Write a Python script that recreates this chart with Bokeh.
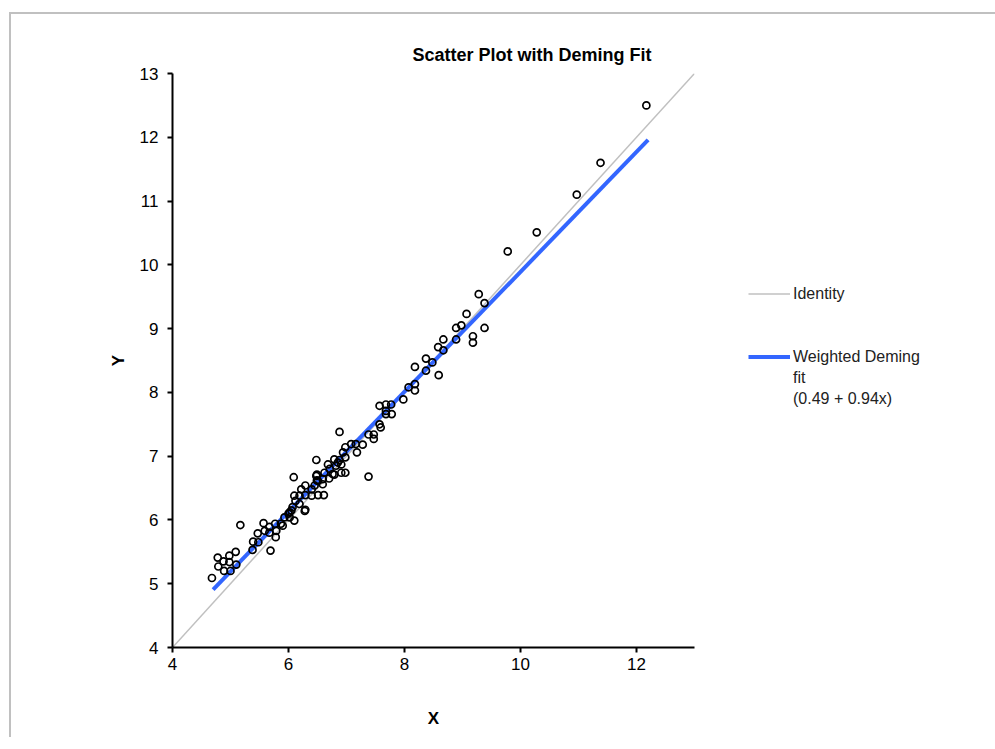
from bokeh.plotting import figure
from bokeh.models import Range1d, Legend, LegendItem, ColumnDataSource
from bokeh.embed import file_html
from bokeh.resources import INLINE

# ---- data ----
x_vals = [4.68, 4.78, 4.88, 4.98, 5.09, 4.79, 4.89, 4.98, 5.00, 5.10, 5.17,
          5.39, 5.48, 5.38, 5.47,
          5.57, 5.67, 5.59, 5.67, 5.77, 5.78, 5.69, 5.87, 5.79, 5.90, 5.93,
          6.02, 6.02, 6.10, 6.07, 6.19, 6.29, 6.10, 6.19, 6.29, 6.40, 6.51, 6.61,
          6.22, 6.29, 6.40, 6.09, 6.28, 6.00, 6.05, 6.12,
          6.49, 6.62, 6.79, 6.91, 6.98, 6.49, 6.59, 6.48, 6.88, 7.38,
          6.98, 6.94, 6.98, 6.88, 6.79, 6.82, 6.91, 6.76, 6.71, 6.68, 6.59, 6.51,
          6.48, 6.45, 6.70, 6.85,
          7.08, 7.16, 7.28, 7.18, 7.38, 7.47, 7.47, 7.57, 7.59,
          7.57, 7.68, 7.77, 7.68, 7.68, 7.78, 7.98,
          8.07, 8.18, 8.18, 8.18, 8.37, 8.48, 8.37, 8.59,
          8.58, 8.67, 8.67, 8.89, 8.89, 8.98, 9.07, 9.18, 9.18, 9.28, 9.38, 9.38,
          9.78, 10.28, 10.97, 11.38, 12.17]
y_vals = [5.09, 5.41, 5.35, 5.44, 5.50, 5.27, 5.20, 5.34, 5.20, 5.30, 5.92,
          5.66, 5.65, 5.53, 5.79,
          5.95, 5.89, 5.83, 5.80, 5.94, 5.73, 5.52, 5.94, 5.83, 5.91, 6.04,
          6.12, 6.04, 5.99, 6.20, 6.25, 6.16, 6.38, 6.38, 6.39, 6.38, 6.39, 6.39,
          6.48, 6.54, 6.48, 6.67, 6.14, 6.10, 6.15, 6.30,
          6.71, 6.74, 6.71, 6.74, 6.74, 6.62, 6.56, 6.94, 7.38, 6.68,
          7.14, 7.06, 6.98, 6.94, 6.95, 6.85, 6.87, 6.72, 6.80, 6.87, 6.64, 6.61,
          6.69, 6.54, 6.65, 6.90,
          7.19, 7.19, 7.18, 7.06, 7.34, 7.34, 7.27, 7.50, 7.45,
          7.79, 7.81, 7.81, 7.71, 7.66, 7.66, 7.89,
          8.08, 8.13, 8.03, 8.40, 8.53, 8.47, 8.34, 8.27,
          8.71, 8.83, 8.66, 8.83, 9.01, 9.05, 9.23, 8.88, 8.78, 9.54, 9.40, 9.01,
          10.21, 10.51, 11.10, 11.60, 12.50]

fit_intercept = 0.49
fit_slope = 0.94
fit_x_ends = [4.7, 12.2]
identity_ends = [4, 13]
x_ticks = [4, 6, 8, 10, 12]
y_ticks = [4, 5, 6, 7, 8, 9, 10, 11, 12, 13]

title_text = "Scatter Plot with Deming Fit"
legend_identity = "Identity"
legend_fit_lines = ["Weighted Deming", "fit", "(0.49 + 0.94x)"]

FONT = "Liberation Sans"

p = figure(output_backend="svg", toolbar_location=None,
           frame_width=522, frame_height=574,
           min_border_left=161, min_border_right=280,
           min_border_top=59, min_border_bottom=90,
           x_range=Range1d(4, 13), y_range=Range1d(4, 13))
p.styles = {"position": "absolute", "top": "12px", "left": "9px",
            "border-left": "2px solid #c0c0c0", "border-top": "2px solid #c0c0c0",
            "border-right": "none", "border-bottom": "none"}
p.grid.visible = False
p.outline_line_color = None
p.background_fill_color = "white"
p.border_fill_color = "white"

p.title.text = title_text
p.title.align = "left"
p.title.offset = 240
p.title.standoff = 17
p.title.text_font = FONT
p.title.text_font_size = "18px"
p.title.text_font_style = "bold"
p.title.text_color = "black"

for ax in (p.xaxis[0], p.yaxis[0]):
    ax.axis_line_color = "black"
    ax.axis_line_width = 2
    ax.major_tick_line_color = "black"
    ax.major_tick_line_width = 2
    ax.major_tick_out = 5
    ax.major_tick_in = 0
    ax.minor_tick_line_color = None
    ax.major_label_text_font = FONT
    ax.major_label_text_font_size = "17px"
    ax.major_label_text_color = "black"
    ax.axis_label_text_font = FONT
    ax.axis_label_text_font_style = "bold"
    ax.axis_label_text_font_size = "17px"
    ax.axis_label_text_color = "black"

p.xaxis.ticker = x_ticks
p.yaxis.ticker = y_ticks
p.xaxis.axis_label = "X"
p.yaxis.axis_label = "Y"
p.xaxis.major_label_standoff = 5
p.yaxis.major_label_standoff = 9
p.xaxis.axis_label_standoff = 36
p.yaxis.axis_label_standoff = 9

id_src = ColumnDataSource(dict(x=identity_ends, y=identity_ends))
r_id = p.line("x", "y", source=id_src, line_color="#c0c0c0", line_width=1.5)

fit_y = [fit_intercept + fit_slope * v for v in fit_x_ends]
fit_src = ColumnDataSource(dict(x=fit_x_ends, y=fit_y))
r_fit = p.line("x", "y", source=fit_src, line_color="#3366ff", line_width=4)

# invisible renderer used only to make text-only legend rows
r_blank = p.line(x=[], y=[], line_alpha=0)

pts = ColumnDataSource(dict(x=x_vals, y=y_vals))
p.scatter("x", "y", source=pts, marker="circle", size=7, line_color="black",
          line_width=1.7, fill_alpha=0)

items = [LegendItem(label=legend_identity, renderers=[r_id]),
         LegendItem(label=" ", renderers=[r_blank]),
         LegendItem(label=" ", renderers=[r_blank]),
         LegendItem(label=legend_fit_lines[0], renderers=[r_fit]),
         LegendItem(label=legend_fit_lines[1], renderers=[r_blank]),
         LegendItem(label=legend_fit_lines[2], renderers=[r_blank])]
legend = Legend(items=items, location=(54, 238), orientation="vertical",
                glyph_width=42, glyph_height=21, label_height=21,
                label_standoff=3, spacing=0, padding=0, margin=0,
                border_line_color=None, background_fill_alpha=0,
                label_text_font=FONT, label_text_font_size="16px",
                label_text_color="#222222")
p.add_layout(legend, "right")

open("out.html", "w").write(file_html(p, INLINE))
